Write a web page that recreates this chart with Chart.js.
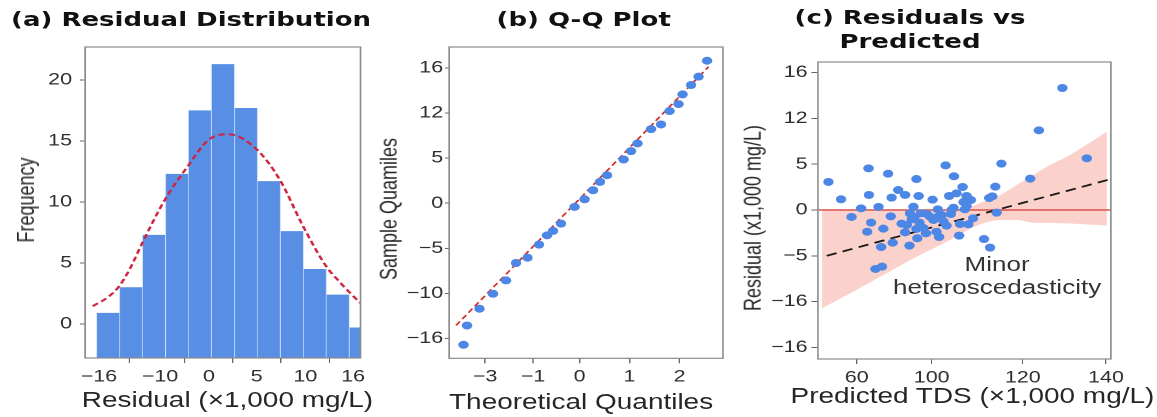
<!DOCTYPE html>
<html>
<head>
<meta charset="utf-8">
<script src="https://cdn.jsdelivr.net/npm/chart.js@4.4.0/dist/chart.umd.min.js"></script>
<style>
html, body { margin: 0; padding: 0; background: #fff; width: 1157px; height: 417px; overflow: hidden; }
#wrap { position: absolute; left: 0; top: 0; width: 890px; height: 417px; transform: scaleX(1.3); transform-origin: 0 0; }
#wrap canvas { position: absolute; top: 0; }
.t { position: absolute; white-space: nowrap; transform: translate(-50%, -50%); color: #262626;
     font-family: "Liberation Sans", Arial, sans-serif; line-height: 1; }
.h { font-family: "DejaVu Sans", sans-serif; font-weight: bold; font-size: 20px; color: #111; }
.ax { font-size: 21.5px; }
.yt { font-size: 18px; transform: translate(-50%, -50%) rotate(-90deg); }
.note { font-size: 20px; color: #333; }
</style>
</head>
<body>
<div id="wrap">
  <canvas id="cA" width="285" height="417" style="left:0"></canvas>
  <canvas id="cB" width="300" height="417" style="left:285px"></canvas>
  <canvas id="cC" width="325" height="417" style="left:565px"></canvas>

  <div class="t h" style="left:147px;top:19px">(a) Residual Distribution</div>
  <div class="t h" style="left:449px;top:19px">(b) Q-Q Plot</div>
  <div class="t h" style="left:700px;top:17px">(c) Residuals vs</div>
  <div class="t h" style="left:700px;top:41px">Predicted</div>

  <div class="t ax" style="left:175px;top:401px">Residual (×1,000 mg/L)</div>
  <div class="t ax" style="left:447px;top:403px">Theoretical Quantiles</div>
  <div class="t ax" style="left:748px;top:397px">Predicted TDS (×1,000 mg/L)</div>

  <div class="t yt" style="left:20px;top:200px">Frequency</div>
  <div class="t yt" style="left:299px;top:209px">Sample Quamiles</div>
  <div class="t yt" style="left:579px;top:218px">Residual (x1,000 mg/L)</div>

  <div class="t note" style="left:767px;top:264px">Minor</div>
  <div class="t note" style="left:767px;top:287px">heteroscedasticity</div>
</div>

<script>
// (a) histogram: bar heights per bin, normal curve
var binCounts = [0.9, 3.0, 7.3, 12.3, 17.5, 21.3, 17.7, 11.7, 7.6, 4.5, 2.4, -0.3];
var curveX = [-0.17, 0.5, 0.99, 1.5, 1.98, 2.98, 3.96, 4.88, 5.74, 6.97, 7.98, 8.99, 10.0, 10.5, 11.0, 11.49];
var curveY = [1.45, 2.2, 3.1, 4.7, 6.6, 10.2, 12.9, 15.1, 15.55, 14.3, 11.8, 8.0, 4.7, 3.6, 2.6, 1.7];
var histXTickPos = [0.1, 2.76, 4.89, 6.97, 9.09, 11.17];
var histXTickLabels = ['\u221216', '\u221210', '0', '5', '10', '16'];
var histYTickPos = [0, 5, 10, 15, 20];
var histYTickLabels = ['0', '5', '10', '15', '20'];

// (b) Q-Q plot
var qqTheo = [-2.32, -2.25, -2.0, -1.73, -1.47, -1.27, -1.04, -0.81, -0.65, -0.53, -0.37, -0.10, 0.10, 0.27,
              0.41, 0.55, 0.88, 1.03, 1.16, 1.43, 1.63, 1.80, 1.98, 2.06, 2.23, 2.38, 2.55];
var qqSample = [-15.7, -13.56, -11.7, -10.04, -8.56, -6.63, -6.04, -4.59, -3.56, -3.07, -2.26, -0.41, 0.44, 1.44,
                2.37, 3.11, 4.85, 5.78, 6.63, 8.22, 8.74, 10.22, 11.0, 12.07, 13.11, 14.04, 15.81];
var qqLineX = [-2.47, 2.58];
var qqLineY = [-13.56, 15.14];
var qqXTickPos = [-1.89, -0.93, 0, 1, 2];
var qqXTickLabels = ['\u22123', '\u22121', '0', '1', '2'];
var qqYTickPos = [-15, -10, -5, 0, 5, 10, 15];
var qqYTickLabels = ['\u221216', '\u221210', '\u22125', '0', '5', '12', '16'];

// (c) residuals vs predicted
var predTDS = [76.3, 79.2, 81.6, 83.8, 85.5, 85.6, 86.1, 85.2, 87.8, 88.4, 87.1, 88.6, 88.9, 90.0, 90.6, 90.8,
               91.05, 92.3, 93.1, 93.9, 93.9, 94.9, 95.0, 95.8, 96.0, 96.5, 96.5, 96.7, 97.0, 97.2, 97.5, 98.1,
               98.7, 98.9, 100.2, 100.4, 101.1, 101.4, 101.5, 101.7, 102.7, 103.2, 103.4, 104.0, 104.4, 105.0,
               105.1, 105.7, 106.3, 106.5, 107.1, 107.3, 107.6, 108.0, 108.4, 109.0, 109.5, 112.0, 113.2, 113.4,
               113.9, 114.6, 114.9, 116.0, 122.6, 124.6, 130.0, 135.6, 104.6, 95.4, 94.3, 99.6, 102.3, 108.0];
var resid = [3.06, 1.17, -0.76, 0.18, 4.55, 1.64, -1.38, -2.37, 0.33, -4.04, -6.44, -6.19, -2.04, 3.96, -0.69, 1.35,
             -3.57, 2.18, -1.49, 1.64, -2.44, -3.89, -0.36, 0.36, -0.80, 3.38, -2.07, -3.09, 1.53, -1.38, -0.36, -1.96,
             -2.55, -0.44, 1.13, -1.09, -2.37, 0.07, -0.73, -2.95, -1.24, 4.87, -1.71, 1.53, -0.44, 0.25,
             3.68, 1.82, -2.80, -1.53, 2.51, 0.87, 0.07, 0.44, -1.56, 1.09, -0.91, -3.17, 1.31, -4.11,
             1.49, 2.55, -0.29, 5.06, 3.42, 8.70, 13.32, 5.64, 0, -1.02, -1.64, -0.73, -0.55, 1.53];
var bandX = [74.8, 81.25, 88.9, 96.6, 104.2, 108.0, 111.8, 115.7, 119.5, 123.3, 127.1, 131.0, 134.8, 140.2];
var bandLow = [-10.73, -9.10, -7.10, -5.09, -3.28, -2.26, -1.46, -1.09, -1.09, -1.38, -1.42, -1.46, -1.56, -1.71];
var bandHigh = [0, 0, 0, 0, 0, 0.18, 0.91, 1.64, 2.73, 3.82, 4.91, 5.82, 6.91, 8.55];
var trendX = [75.9, 141.15];
var trendY = [-5.0, 3.38];
var rvXTickPos = [82.8, 100, 120.9, 140];
var rvXTickLabels = ['60', '100', '120', '140'];
var rvYTickPos = [-15, -10, -5, 0, 5, 10, 15];
var rvYTickLabels = ['\u221216', '\u221216', '\u22125', '0', '5', '12', '16'];

Chart.defaults.font.family = '"Liberation Sans", Arial, sans-serif';
Chart.defaults.color = '#333';

function pts(xs, ys) {
    return xs.map(function(x, i) { return { x: x, y: ys[i] }; });
}

var boxPlugin = {
    id: 'box',
    afterDraw: function(chart) {
        var a = chart.chartArea, ctx = chart.ctx;
        ctx.save();
        ctx.strokeStyle = '#8a8a8a';
        ctx.lineWidth = 1.2;
        ctx.strokeRect(a.left, a.top, a.right - a.left, a.bottom - a.top);
        ctx.restore();
    }
};

function axis(min, max, pos, labels, size, tickLen, pad) {
    return {
        type: 'linear', min: min, max: max, offset: false,
        grid: { drawOnChartArea: false, drawTicks: true, tickLength: tickLen, color: '#666', lineWidth: 1 },
        border: { display: false },
        ticks: {
            padding: pad, color: '#2e2e2e', font: { size: 16.5 }, autoSkip: false, maxRotation: 0,
            callback: function(v, i) { return labels[i]; }
        },
        afterBuildTicks: function(s) {
            s.ticks = pos.map(function(p) { return { value: p }; });
        },
        afterFit: function(s) {
            if (s.isHorizontal()) s.height = size; else s.width = size;
        }
    };
}

function baseOptions(pad, xAx, yAx) {
    return {
        responsive: false,
        animation: false,
        devicePixelRatio: 2,
        layout: { padding: pad },
        plugins: { legend: { display: false }, tooltip: { enabled: false }, title: { display: false } },
        scales: { x: xAx, y: yAx }
    };
}

var histYMin = -2.8;

new Chart(document.getElementById('cA'), {
    type: 'bar',
    data: {
        datasets: [{
            type: 'line',
            data: pts(curveX, curveY),
            borderColor: '#cf2440',
            borderWidth: 2,
            borderDash: [5, 3],
            pointRadius: 0,
            cubicInterpolationMode: 'monotone',
            fill: false,
            order: 0
        }, {
            type: 'bar',
            data: binCounts.map(function(c, i) { return { x: i + 0.5, y: c }; }),
            backgroundColor: '#588ee4',
            borderColor: 'rgba(205,225,255,0.95)',
            borderWidth: { left: 0.6, right: 0.6, top: 0, bottom: 0 },
            borderSkipped: false,
            base: histYMin,
            barPercentage: 1,
            categoryPercentage: 1,
            order: 1
        }]
    },
    options: baseOptions({ left: 0, right: 5.8, top: 47, bottom: 0 },
        axis(-0.505, 11.49, histXTickPos, histXTickLabels, 59, 5, 4),
        axis(histYMin, 22.7, histYTickPos, histYTickLabels, 65.4, 4, 6)),
    plugins: [boxPlugin]
});

new Chart(document.getElementById('cB'), {
    type: 'scatter',
    data: {
        datasets: [{
            data: pts(qqTheo, qqSample),
            backgroundColor: '#4c87e6',
            borderWidth: 0,
            pointRadius: 4,
            order: 0
        }, {
            type: 'line',
            data: pts(qqLineX, qqLineY),
            borderColor: '#d42a2a',
            borderWidth: 1.5,
            borderDash: [5, 3],
            pointRadius: 0,
            fill: false,
            order: 1
        }]
    },
    options: baseOptions({ left: 0, right: 28.8, top: 47, bottom: 0 },
        axis(-2.61, 2.87, qqXTickPos, qqXTickLabels, 58.7, 5, 4),
        axis(-17.2, 17.33, qqYTickPos, qqYTickLabels, 60.4, 3, 1.5)),
    plugins: [boxPlugin]
});

var rvXMin = 73.9, rvXMax = 141.15;

new Chart(document.getElementById('cC'), {
    type: 'scatter',
    data: {
        datasets: [{
            data: pts(predTDS, resid),
            backgroundColor: '#4c87e6',
            borderWidth: 0,
            pointRadius: 4,
            order: 0
        }, {
            type: 'line',
            data: pts(trendX, trendY),
            borderColor: '#1a1a1a',
            borderWidth: 1.8,
            borderDash: [8, 5],
            pointRadius: 0,
            fill: false,
            order: 1
        }, {
            type: 'line',
            data: pts([rvXMin, rvXMax], [0, 0]),
            borderColor: '#d9534f',
            borderWidth: 1.6,
            pointRadius: 0,
            fill: false,
            order: 2
        }, {
            type: 'line',
            data: pts(bandX, bandLow),
            borderWidth: 0,
            borderColor: 'rgba(0,0,0,0)',
            pointRadius: 0,
            cubicInterpolationMode: 'monotone',
            fill: false,
            order: 4
        }, {
            type: 'line',
            data: pts(bandX, bandHigh),
            borderWidth: 0,
            borderColor: 'rgba(0,0,0,0)',
            backgroundColor: '#fbd2cb',
            pointRadius: 0,
            cubicInterpolationMode: 'monotone',
            fill: 3,
            order: 3
        }]
    },
    options: baseOptions({ left: 0, right: 35.4, top: 62, bottom: 0 },
        axis(rvXMin, rvXMax, rvXTickPos, rvXTickLabels, 58, 5, 4),
        axis(-16.27, 16.16, rvYTickPos, rvYTickLabels, 64.2, 5, 3)),
    plugins: [boxPlugin]
});
</script>
</body>
</html>
